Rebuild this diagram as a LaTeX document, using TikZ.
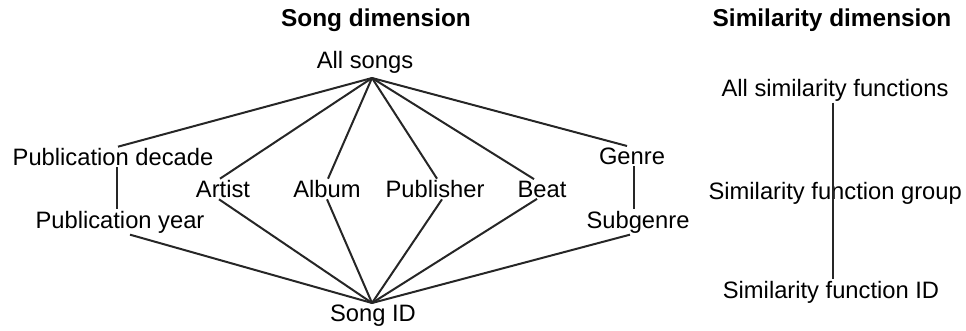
\documentclass[tikz,border=0pt]{standalone}
\usepackage{fontspec}
\setmainfont{Liberation Sans}
\usepackage{tikz}
\tikzset{
  lbl/.style={inner sep=1pt,font=\fontsize{17.8}{20}\selectfont},
  ttl/.style={inner sep=1pt,font=\fontsize{18.3}{20}\selectfont\bfseries},
  edge/.style={line width=1.5pt,black!85}
}

\begin{document}
\begin{tikzpicture}[x=0.75pt,y=-0.75pt]
  \useasboundingbox (0,0) rectangle (966,331);
  % ---- titles ----
  \node[ttl] (songdim) at (376,20) {Song dimension};
  \node[ttl] (simdim) at (832,20) {Similarity dimension};
  % ---- song dimension levels ----
  \node[lbl] (all) at (365,62) {All songs};
  \node[lbl] (decade) at (113,157) {Publication decade};
  \node[lbl] (year) at (120,222) {Publication year};
  \node[lbl] (artist) at (223,189) {Artist};
  \node[lbl] (album) at (327,189) {Album};
  \node[lbl] (publisher) at (435,189) {Publisher};
  \node[lbl] (beat) at (542,189) {Beat};
  \node[lbl] (genre) at (632,156) {Genre};
  \node[lbl] (subgenre) at (638,222) {Subgenre};
  \node[lbl] (songid) at (373,316) {Song ID};
  \coordinate (top) at (372,78);
  \coordinate (bot) at (372,303);
  % ---- edges from all songs ----
  \foreach \n/\e in {decade/118,artist/220,album/328,publisher/437,beat/534,genre/627}
    \draw[edge] (top) -- (\n.north -| \e,0);
  \draw[edge] (decade.south -| 117,0) -- (year.north -| 117,0);
  \draw[edge] (genre.south -| 634,0) -- (subgenre.north -| 634,0);
  % ---- edges to song ID ----
  \foreach \n/\e in {year/130,artist/219,album/327,publisher/442,beat/537,subgenre/630}
    \draw[edge] (\n.south -| \e,0) -- (bot);
  % ---- similarity dimension ----
  \node[lbl] (simall) at (835,90) {All similarity functions};
  \node[lbl,anchor=west] (simgroup) at (707,193) {Similarity function group};
  \node[lbl] (simid) at (831,292) {Similarity function ID};
  \draw[edge] (simall.south -| 833,0) -- (simid.north -| 833,0);
\end{tikzpicture}
\end{document}
